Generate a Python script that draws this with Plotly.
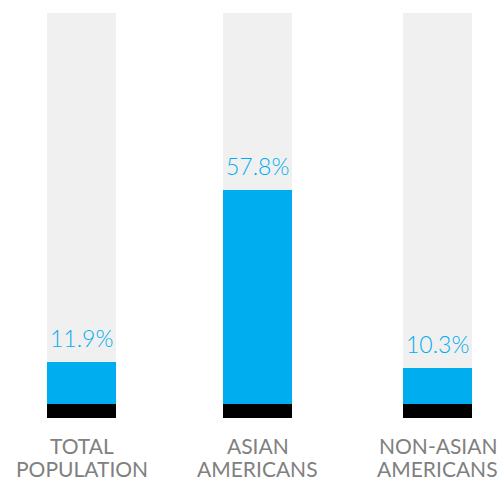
import plotly.graph_objects as go

# Share of each group (percent)
groups = ["TOTAL<br>POPULATION", "ASIAN<br>AMERICANS", "NON-ASIAN<br>AMERICANS"]
values = [11.9, 57.8, 10.3]
value_labels = ["11.9%", "57.8%", "10.3%"]

# Layout constants
x_pos = [81.5, 257.5, 437.5]      # bar centres in pixel-like x units
bar_w = 69
y_top = 108.1                     # track height (axis units)
base_off = 3.04                   # blue bars start above the dark footer
footer_h = 3.74                   # dark footer band height
line_shifts = [-27, -50]          # pixel offsets of the two label lines below the axis

BLUE = "#00AEEF"
TRACK = "#F0F0F0"
GREY_TXT = "#808080"
FONT = "Lato"

fig = go.Figure()

# light grey tracks
fig.add_trace(go.Bar(
    x=x_pos, y=[y_top] * len(values), base=0, width=bar_w,
    marker=dict(color=TRACK, line=dict(width=0)), hoverinfo="skip",
))
# blue value bars
fig.add_trace(go.Bar(
    x=x_pos, y=values, base=base_off, width=bar_w,
    marker=dict(color=BLUE, line=dict(width=0)),
))
# dark footer band
fig.add_trace(go.Bar(
    x=x_pos, y=[footer_h] * len(values), base=0, width=bar_w,
    marker=dict(color="#000000", line=dict(width=0)), hoverinfo="skip",
))

for xp, v, lab, g in zip(x_pos, values, value_labels, groups):
    fig.add_annotation(
        x=xp, y=base_off + v, xref="x", yref="y",
        text=lab, showarrow=False, yanchor="bottom", yshift=8,
        font=dict(family=FONT, size=23, color=BLUE, weight=300),
    )
    for line, shift in zip(g.split("<br>"), line_shifts):
        fig.add_annotation(
            x=xp, y=0, xref="x", yref="paper",
            text=line, showarrow=False, yanchor="middle", yshift=shift,
            font=dict(family=FONT, size=21, color=GREY_TXT),
        )

fig.update_layout(
    width=504, height=481,
    margin=dict(l=0, r=0, t=13, b=63),
    barmode="overlay",
    showlegend=False,
    plot_bgcolor="white", paper_bgcolor="white",
    xaxis=dict(range=[0, 504], visible=False, fixedrange=True),
    yaxis=dict(range=[0, y_top], visible=False, fixedrange=True),
)

fig.write_html("out.html")
